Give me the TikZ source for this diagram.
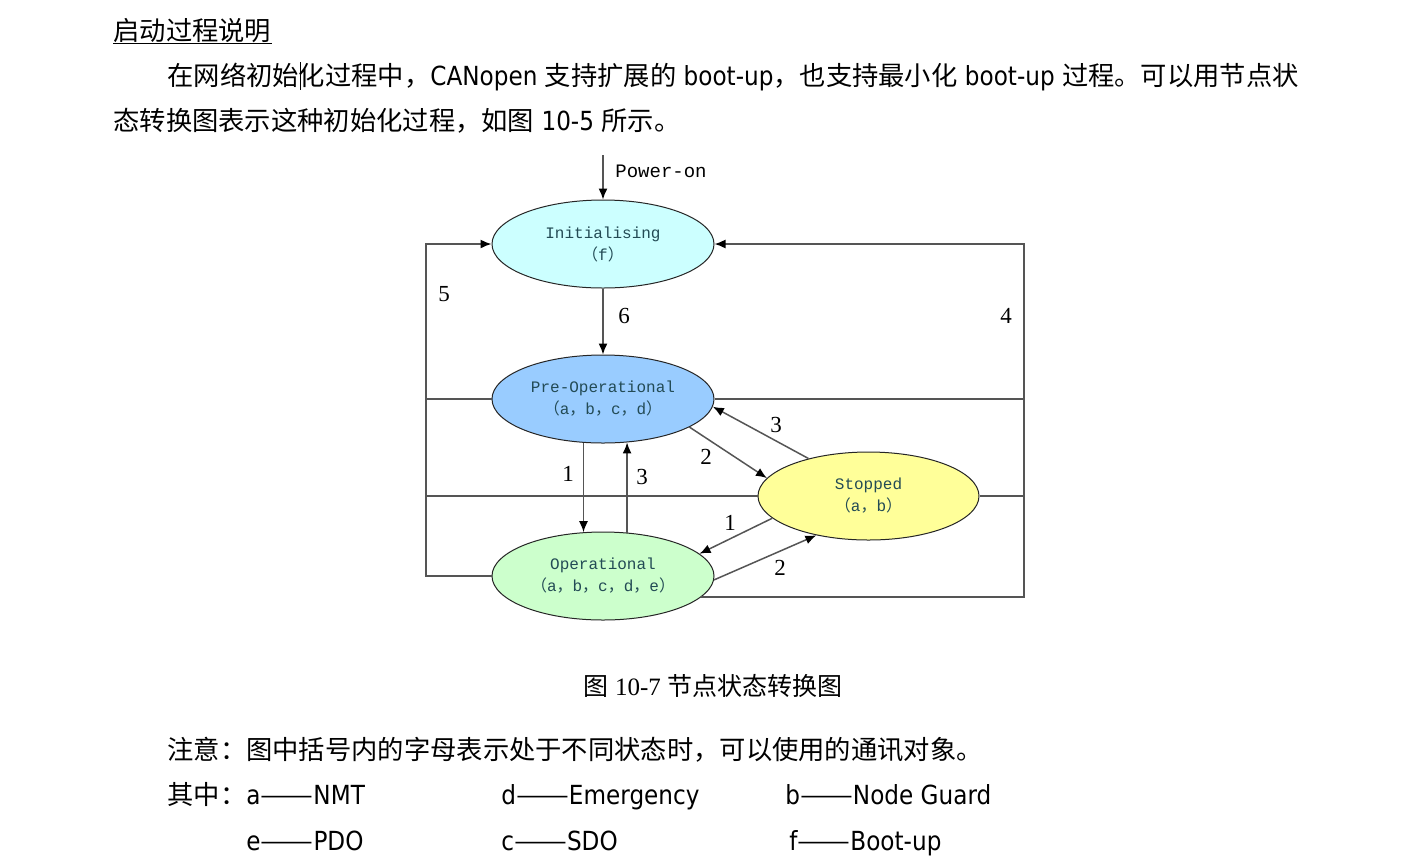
\documentclass[tikz,border=0pt]{standalone}
\usepackage{fontspec}
\usetikzlibrary{shapes.geometric,arrows.meta}
\newfontfamily\cjk{Noto Sans CJK SC}
\newfontfamily\lat{DejaVu Sans}[FakeStretch=0.88]
\newfontfamily\mono{Liberation Mono}
\newfontfamily\tms{Liberation Serif}
\newcommand\ddash{\scalebox{1.2}[1]{——}}
\definecolor{initc}{RGB}{204,255,255}
\definecolor{prec}{RGB}{153,204,255}
\definecolor{opc}{RGB}{204,255,204}
\definecolor{stc}{RGB}{255,255,153}
\definecolor{txtc}{RGB}{35,75,85}
\definecolor{linec}{RGB}{85,85,85}
\tikzset{
  state/.style={ellipse, draw=black!85, line width=0.5pt, minimum width=111pt, minimum height=44pt,
    inner sep=0pt, font=\mono\fontsize{8}{11}\selectfont, text=txtc, align=center},
  conn/.style={draw=linec, line width=0.75pt},
  arr/.style={conn, -{Latex[length=5.5pt,width=4.5pt,color=black]}},
  num/.style={font=\tms\fontsize{11.5}{13}\selectfont, inner sep=0pt},
  body/.style={font=\cjk\fontsize{13.15}{15}\selectfont, anchor=base west, inner sep=0pt},
}
\begin{document}
\begin{tikzpicture}[x=0.5pt,y=-0.5pt]
\fill[white] (0,0) rectangle (1403,859);
\useasboundingbox (0,0) rectangle (1403,859);
% text above
\node[body] (title) at (113,40) {启动过程说明};
\draw[line width=0.6pt] ([yshift=-0.5pt]title.south west) -- ([yshift=-0.5pt]title.south east);
\node[body] (l2) at (167,85) {在网络初始化过程中，{\lat CANopen }支持扩展的{\lat\ boot-up}，也支持最小化{\lat\ boot-up }过程。可以用节点状};
\node[body] (l3) at (113,130) {态转换图表示这种初始化过程，如图{\lat\ 10-5 }所示。};
\draw[line width=0.6pt] (300.5,62) -- (300.5,90);
% states
\node[state, fill=initc] (init) at (603,244) {Initialising\\{\cjk （}f{\cjk ）}};
\node[state, fill=prec] (pre) at (603,399) {Pre-Operational\\{\cjk （}a{\cjk ，}b{\cjk ，}c{\cjk ，}d{\cjk ）}};
\node[state, fill=opc] (op) at (603,576) {Operational\\{\cjk （}a{\cjk ，}b{\cjk ，}c{\cjk ，}d{\cjk ，}e{\cjk ）}};
\node[state, fill=stc, minimum width=110.5pt] (st) at (868.5,496) {Stopped\\{\cjk （}a{\cjk ，}b{\cjk ）}};
\coordinate (pw) at (603,155);
\coordinate (L) at (426,0);
\coordinate (R) at (1024,0);
\coordinate (opr) at (op.-12.2);
% connectors
\draw[arr] (pw) -- (init.north);
\node[font=\mono\fontsize{9.5}{11}\selectfont, anchor=west, inner sep=0pt] (pwl) at (615,171) {Power-on};
\draw[arr] (init.south) -- (pre.north);
\draw[arr] (pre.-114.8) -- (op.114.8);
\draw[arr] (op.61.9) -- (pre.-61.9);
\draw[arr] (pre.-18.2) -- (st.170);
\draw[arr] (st.148) -- (pre.-4);
\draw[arr] (st.193) -- (op.13.9);
\draw[arr] (op.-2) -- (st.217.7);
\draw[arr] (op.west) -- (op.west -| L) |- (init.west);
\draw[conn] (pre.west) -- (pre.west -| L);
\draw[conn] (st.west) -- (st.west -| L);
\draw[arr] (opr) -- (opr -| R) |- (init.east);
\draw[conn] (pre.east) -- (pre.east -| R);
\draw[conn] (st.east) -- (st.east -| R);
% numbers
\node[num] (n5) at (444,294) {5};
\node[num] (n6) at (624,316) {6};
\node[num] (n4) at (1006,316) {4};
\node[num] (n1a) at (568,474) {1};
\node[num] (n3a) at (642,477) {3};
\node[num] (n2a) at (706,457) {2};
\node[num] (n3b) at (776,425) {3};
\node[num] (n1b) at (730,523) {1};
\node[num] (n2b) at (780,568) {2};
% caption and notes
\node[font=\cjk\fontsize{12.5}{14}\selectfont, inner sep=0pt] (cap) at (713,686) {图{\tms\ 10-7 }节点状态转换图};
\node[body] (note) at (167,759) {注意：图中括号内的字母表示处于不同状态时，可以使用的通讯对象。};
\node[body] (qz) at (167,804) {其中：};
\node[body] (la) at (246,804) {{\lat a}\ddash{\lat NMT}};
\node[body] (ld) at (501,804) {{\lat d}\ddash{\lat Emergency}};
\node[body] (lb) at (785,804) {{\lat b}\ddash{\lat Node Guard}};
\node[body] (le) at (246,850) {{\lat e}\ddash{\lat PDO}};
\node[body] (lc) at (501,850) {{\lat c}\ddash{\lat SDO}};
\node[body] (lf) at (789,850) {{\lat f}\ddash{\lat Boot-up}};
\end{tikzpicture}
\end{document}
